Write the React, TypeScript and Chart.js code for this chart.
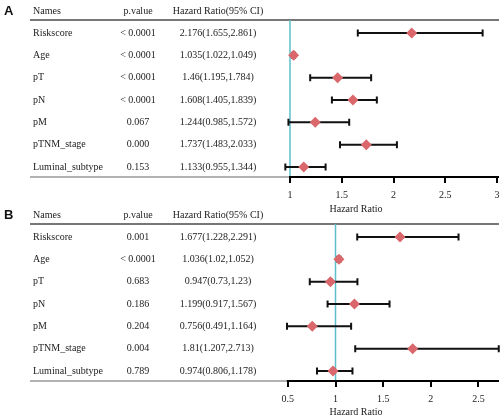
import React, { useEffect, useRef } from 'react';
import { Chart, registerables } from 'chart.js';

Chart.register(...registerables);

// ---------- data ----------
const NAMES = ['Riskscore', 'Age', 'pT', 'pN', 'pM', 'pTNM_stage', 'Luminal_subtype'];

const A_P = ['< 0.0001', '< 0.0001', '< 0.0001', '< 0.0001', '0.067', '0.000', '0.153'];
const A_HR = [2.176, 1.035, 1.46, 1.608, 1.244, 1.737, 1.133];
const A_LO = [1.655, 1.022, 1.195, 1.405, 0.985, 1.483, 0.955];
const A_HI = [2.861, 1.049, 1.784, 1.839, 1.572, 2.033, 1.344];
const A_TICKS = [1, 1.5, 2, 2.5, 3];
const A_TICK_LABELS = ['1', '1.5', '2', '2.5', '3'];

const B_P = ['0.001', '< 0.0001', '0.683', '0.186', '0.204', '0.004', '0.789'];
const B_HR = [1.677, 1.036, 0.947, 1.199, 0.756, 1.81, 0.974];
const B_LO = [1.228, 1.02, 0.73, 0.917, 0.491, 1.207, 0.806];
const B_HI = [2.291, 1.052, 1.23, 1.567, 1.164, 2.713, 1.178];
const B_TICKS = [0.5, 1, 1.5, 2, 2.5];
const B_TICK_LABELS = ['0.5', '1', '1.5', '2', '2.5'];

const X_TITLE = 'Hazard Ratio';
const HEADERS = ['Names', 'p.value', 'Hazard Ratio(95% CI)'];

// ---------- style ----------
const SERIF = '"Liberation Serif", "Times New Roman", serif';
const SANS = '"Liberation Sans", Arial, sans-serif';
const TEXT = '#222';
const DIAMOND = '#D9676B';
const REF_LINE = '#5CBFCB';

type PanelProps = {
  label: string;
  pvals: string[];
  hr: number[];
  lo: number[];
  hi: number[];
  ticks: number[];
  tickLabels: string[];
  xMin: number;
  xMax: number;
  top: number;
  height: number;
  axisHeight: number;
};

function Panel(p: PanelProps) {
  const ref = useRef<HTMLCanvasElement>(null);
  useEffect(() => {
    const canvas = ref.current;
    if (!canvas) return;
    const tablePlugin = {
      id: 'forestTable',
      beforeDatasetsDraw(chart: any) {
        const c = chart.ctx;
        const xs = chart.scales.x;
        const ys = chart.scales.y;
        const area = chart.chartArea;
        c.save();
        // panel letter
        c.fillStyle = '#111';
        c.font = `bold 13px ${SANS}`;
        c.textAlign = 'left';
        c.textBaseline = 'middle';
        const yHead = ys.getPixelForValue(-0.95);
        c.fillText(p.label, 4, yHead);
        // header
        c.font = `10px ${SERIF}`;
        c.fillStyle = TEXT;
        c.fillText(HEADERS[0], 33, yHead);
        c.textAlign = 'center';
        c.fillText(HEADERS[1], 138, yHead);
        c.fillText(HEADERS[2], 218, yHead);
        // rows
        NAMES.forEach((n, i) => {
          const yy = ys.getPixelForValue(i);
          c.textAlign = 'left';
          c.fillText(n, 33, yy);
          c.textAlign = 'center';
          c.fillText(p.pvals[i], 138, yy);
          c.fillText(`${p.hr[i]}(${p.lo[i]},${p.hi[i]})`, 218, yy);
        });
        // header line
        const yLine = Math.round(ys.getPixelForValue(-0.6));
        c.strokeStyle = '#4a4a4a';
        c.lineWidth = 1.5;
        c.beginPath();
        c.moveTo(30, yLine);
        c.lineTo(area.right, yLine);
        c.stroke();
        // table bottom line
        c.strokeStyle = '#666';
        c.lineWidth = 1.2;
        c.beginPath();
        c.moveTo(30, area.bottom);
        c.lineTo(area.right, area.bottom);
        c.stroke();
        // reference line at HR = 1
        const x1 = xs.getPixelForValue(1);
        c.strokeStyle = REF_LINE;
        c.lineWidth = 1.5;
        c.beginPath();
        c.moveTo(x1, yLine);
        c.lineTo(x1, area.bottom);
        c.stroke();
        // axis line from first tick to right edge
        c.strokeStyle = '#000';
        c.lineWidth = 2;
        c.beginPath();
        c.moveTo(xs.getPixelForValue(p.ticks[0]) - 1, area.bottom);
        c.lineTo(area.right, area.bottom);
        c.stroke();
        // error bars
        c.strokeStyle = '#111';
        c.lineWidth = 2;
        p.hr.forEach((_, i) => {
          const yy = ys.getPixelForValue(i);
          const xl = xs.getPixelForValue(p.lo[i]);
          const xh = xs.getPixelForValue(p.hi[i]);
          c.beginPath();
          c.moveTo(xl, yy);
          c.lineTo(xh, yy);
          c.moveTo(xl, yy - 3.5);
          c.lineTo(xl, yy + 3.5);
          c.moveTo(xh, yy - 3.5);
          c.lineTo(xh, yy + 3.5);
          c.stroke();
        });
        c.restore();
      },
    };

    const chart = new Chart(canvas, {
      type: 'scatter',
      data: {
        datasets: [
          {
            data: p.hr.map((v, i) => ({ x: v, y: i })),
            pointStyle: 'rectRot',
            pointRadius: 5.5,
            pointHoverRadius: 5.5,
            backgroundColor: DIAMOND,
            borderColor: DIAMOND,
            borderWidth: 0,
            clip: false as any,
          },
        ],
      },
      options: {
        responsive: false,
        animation: false,
        events: [],
        layout: { autoPadding: false, padding: { left: 213, right: 1, top: 0, bottom: 0 } },
        plugins: { legend: { display: false }, tooltip: { enabled: false } },
        scales: {
          x: {
            type: 'linear',
            min: p.xMin,
            max: p.xMax,
            afterBuildTicks: (axis: any) => {
              axis.ticks = p.ticks.map((v) => ({ value: v }));
            },
            afterFit: (s: any) => {
              s.height = p.axisHeight;
              s.paddingLeft = 0;
              s.paddingRight = 0;
            },
            border: { display: false },
            grid: {
              drawOnChartArea: false,
              drawTicks: true,
              tickLength: 6,
              color: '#000',
              lineWidth: 2,
            },
            ticks: {
              padding: 0,
              color: TEXT,
              font: { family: SERIF, size: 10, lineHeight: 2.4 },
              maxRotation: 0,
              autoSkip: false,
              callback: (_v: any, i: number) => p.tickLabels[i],
            },
            title: {
              display: true,
              text: X_TITLE,
              color: TEXT,
              font: { family: SERIF, size: 10 },
              padding: { top: 0, bottom: 0 },
            },
          },
          y: {
            type: 'linear',
            display: false,
            reverse: true,
            min: -1.478,
            max: 6.448,
          },
        },
      } as any,
      plugins: [tablePlugin],
    });
    return () => chart.destroy();
  }, []);
  return (
    <canvas
      ref={ref}
      width={500}
      height={p.height}
      style={{ position: 'absolute', left: 0, top: p.top, width: 500, height: p.height }}
    />
  );
}

export default function App() {
  return (
    <div
      style={{
        position: 'absolute',
        left: 0,
        top: 0,
        width: 500,
        height: 417,
        overflow: 'hidden',
        background: '#fff',
      }}
    >
      <Panel
        label="A"
        pvals={A_P}
        hr={A_HR}
        lo={A_LO}
        hi={A_HI}
        ticks={A_TICKS}
        tickLabels={A_TICK_LABELS}
        xMin={0.256}
        xMax={3.0193}
        top={0}
        height={215}
        axisHeight={38}
      />
      <Panel
        label="B"
        pvals={B_P}
        hr={B_HR}
        lo={B_LO}
        hi={B_HI}
        ticks={B_TICKS}
        tickLabels={B_TICK_LABELS}
        xMin={-0.2854}
        xMax={2.7156}
        top={204}
        height={214}
        axisHeight={37}
      />
    </div>
  );
}
